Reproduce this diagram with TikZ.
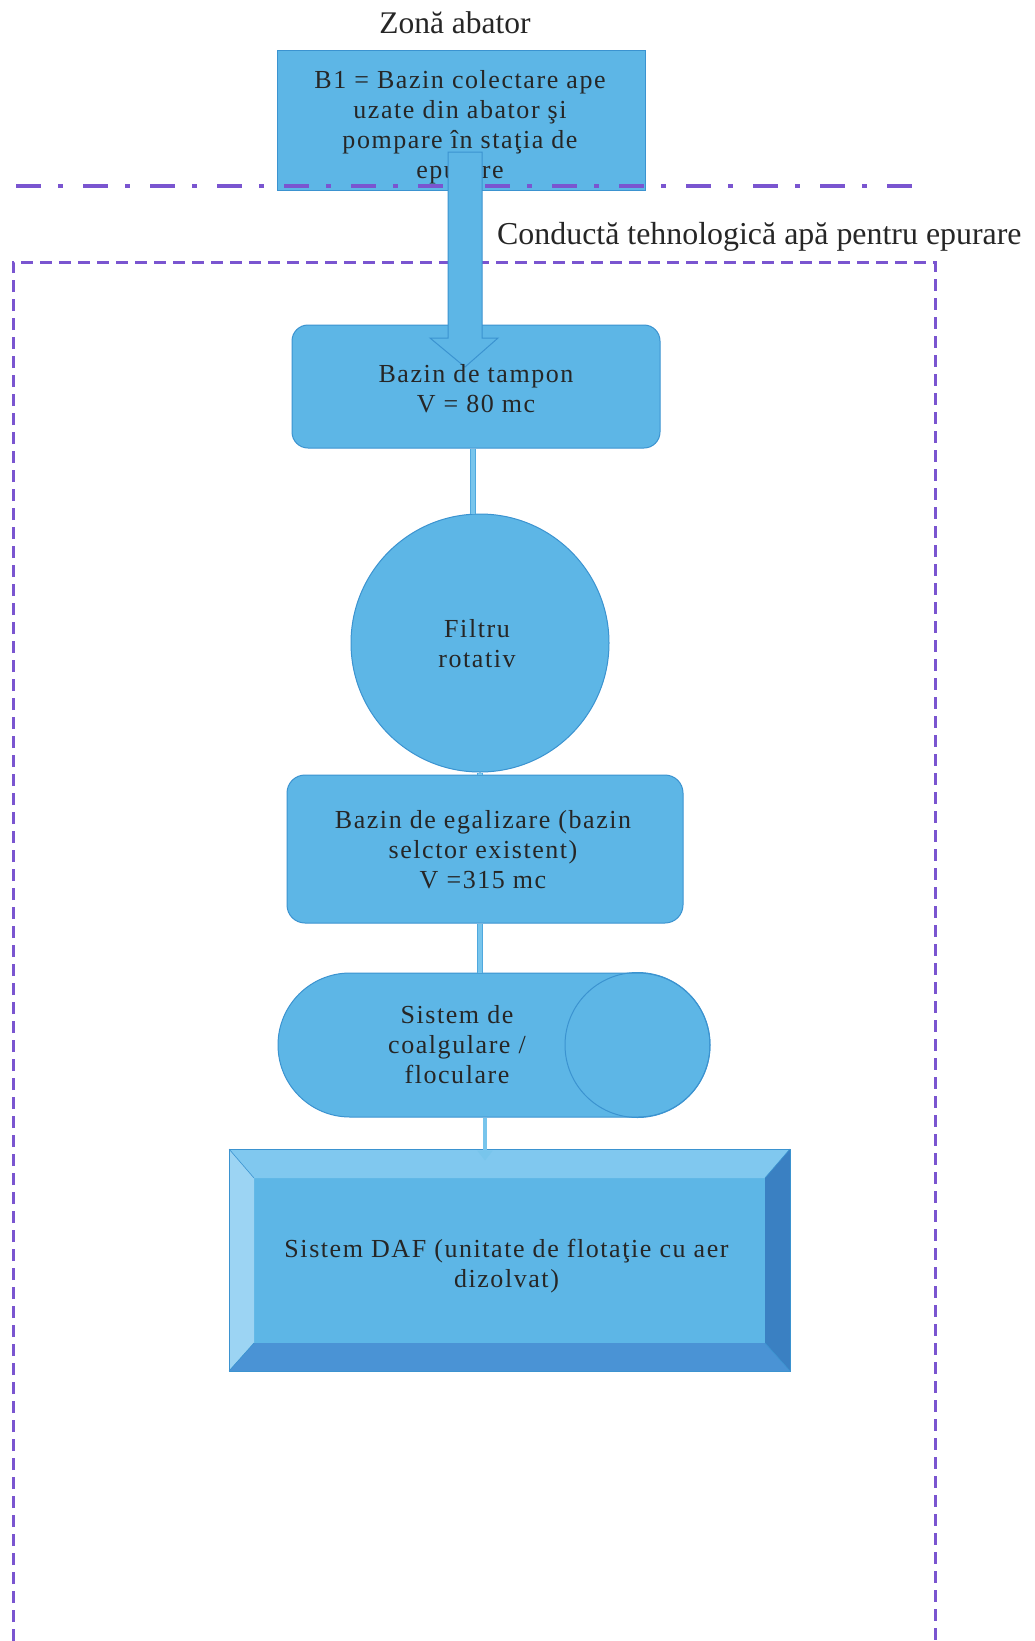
\documentclass[tikz,border=0pt]{standalone}
\usepackage{fontspec}
\setmainfont{Liberation Serif}
\newfontfamily\boxfont[LetterSpace=6]{Liberation Serif}
\usetikzlibrary{arrows.meta,calc}
\definecolor{boxfill}{HTML}{5DB6E6}
\definecolor{boxline}{HTML}{3B93D0}
\definecolor{connfill}{HTML}{78C5EC}
\definecolor{connedge}{HTML}{4FA8DE}
\definecolor{zonecol}{HTML}{7A55D0}
\definecolor{textcol}{HTML}{262626}
\definecolor{bevtop}{HTML}{80C8EF}
\definecolor{bevleft}{HTML}{9CD4F3}
\definecolor{bevright}{HTML}{3A80C2}
\definecolor{bevbot}{HTML}{4A93D5}
\tikzset{
  box/.style={draw=boxline, line width=1pt, fill=boxfill, inner sep=0pt},
  boxtext/.style={font=\boxfont\fontsize{26}{30}\selectfont, align=center, anchor=base, text=textcol, inner sep=0pt},
  labeltext/.style={font=\fontsize{31.5}{36}\selectfont, text=textcol, inner sep=0pt},
  conn/.style={draw=connedge, line width=1pt, double=connfill, double distance=4pt},
  zoneline/.style={draw=zonecol, line width=3pt, dash pattern=on 12pt off 7pt},
  sepline/.style={draw=zonecol, line width=4pt, dash pattern=on 25pt off 17pt on 5pt off 20pt},
}
\begin{document}
\begin{tikzpicture}[x=1pt,y=-1pt]
\useasboundingbox (0,0) rectangle (1034,1641);
\fill[white] (0,0) rectangle (1034,1641);

% zone boundary
\draw[zoneline] (13,1641) -- (13,262) -- (935,262) -- (935,1641);

% labels
\node[labeltext, anchor=base] (zona) at (455,33) {Zonă abator};
\node[labeltext, font=\fontsize{31.9}{36}\selectfont, anchor=base west] (cond) at (497,244) {Conductă tehnologică apă pentru epurare};

% B1
\node[box, minimum width=368pt, minimum height=140pt] (b1) at (461,120) {};
\node[boxtext] (b1t) at (460,178) {B1 = Bazin colectare ape\\uzate din abator şi\\pompare în staţia de\\epurare};

% separator
\draw[sepline] (16,186) -- (921,186);

% buffer tank
\node[box, rounded corners=16pt, minimum width=368pt, minimum height=123pt] (tampon) at (476,386.5) {};

% block arrow
\filldraw[fill=boxfill, draw=boxline, line width=1pt]
  (448,152) -- (482,152) -- (482,338) -- (498,338) -- (465,367) -- (430,338) -- (448,338) -- cycle;
\node[boxtext] (tampont) at (476,412) {Bazin de tampon\\V = 80 mc};

% rotary filter
\node[box, circle, minimum size=258pt] (filtru) at (480,643) {};
\node[boxtext] (filtrut) at (477,667) {Filtru\\rotativ};

% equalization tank
\node[box, rounded corners=18pt, minimum width=396pt, minimum height=148pt] (egal) at (485,849) {};
\node[boxtext] (egalt) at (483,888) {Bazin de egalizare (bazin\\selctor existent)\\V =315 mc};

% coagulation
\node[box, rounded corners=72pt, minimum width=432pt, minimum height=144pt] (coag) at (494,1045) {};
\node[draw=boxline, line width=1pt, circle, minimum size=145pt, inner sep=0pt] (coagc) at (637.5,1045) {};
\node[boxtext] (coagt) at (457,1083) {Sistem de\\coalgulare /\\floculare};

% DAF bevel box
\node[box, minimum width=561pt, minimum height=222pt] (daf) at (509.5,1260) {};
\fill[bevtop] (229,1149) -- (790,1149) -- (765,1178) -- (254,1178) -- cycle;
\fill[bevleft] (229,1149) -- (254,1178) -- (254,1343) -- (229,1371) -- cycle;
\fill[bevright] (790,1149) -- (790,1371) -- (765,1343) -- (765,1178) -- cycle;
\fill[bevbot] (229,1371) -- (254,1343) -- (765,1343) -- (790,1371) -- cycle;
\draw[boxline, line width=1pt] (229,1149) rectangle (790,1371);
\draw[boxline, line width=0.6pt] (229,1149) -- (254,1178) (790,1149) -- (765,1178) (229,1371) -- (254,1343) (790,1371) -- (765,1343);
\node[boxtext] (daft) at (506.5,1287) {Sistem DAF (unitate de flotaţie cu aer\\dizolvat)};

% connectors
\coordinate (xa) at (473,0);
\coordinate (xb) at (480,0);
\coordinate (xc) at (485,0);
\draw[conn] (tampon.south -| xa) -- (filtru.north -| xa);
\draw[conn] (filtru.south -| xb) -- (egal.north -| xb);
\draw[conn] (egal.south -| xb) -- (coag.north -| xb);
\draw[draw=connfill, line width=4pt, -{Triangle[width=15pt,length=10pt]}] (coag.south -| xc) -- ($(daf.north -| xc)+(0,12)$);
\end{tikzpicture}
\end{document}
